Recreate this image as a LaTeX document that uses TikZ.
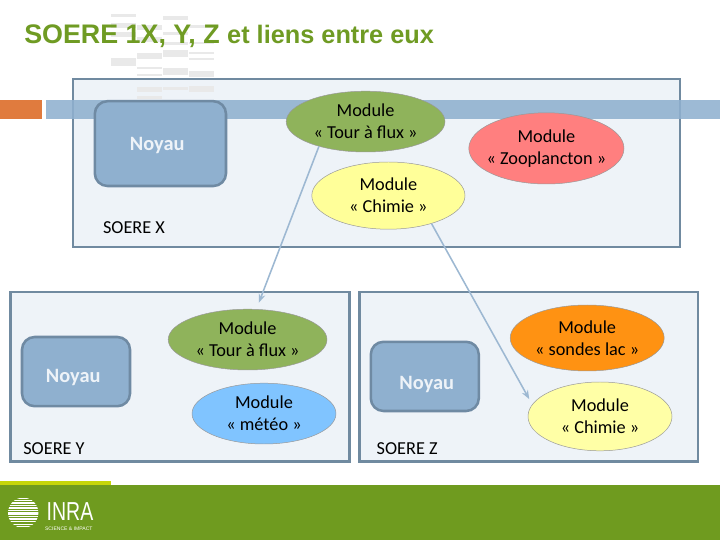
\documentclass[tikz,border=0pt]{standalone}
\usepackage{fontspec}
\setmainfont{Carlito}
\newfontfamily\titlefont{Liberation Sans}
\usetikzlibrary{shapes.geometric, arrows.meta}
\definecolor{fillSoere}{HTML}{EEF3F8}
\definecolor{borderSoere}{HTML}{708AA0}
\definecolor{fillNoyau}{HTML}{8FB0CF}
\definecolor{borderNoyau}{HTML}{6F8AA3}
\definecolor{fillTour}{HTML}{8FB35B}
\definecolor{fillChimie}{HTML}{FFFF99}
\definecolor{fillChimieZ}{HTML}{FFFFA6}
\definecolor{fillZoo}{HTML}{FF7F7F}
\definecolor{fillSondes}{HTML}{FF9212}
\definecolor{fillMeteo}{HTML}{80C4FF}
\definecolor{titleGreen}{HTML}{6F9B23}
\definecolor{footerGreen}{HTML}{6F9B1F}
\definecolor{limeLine}{HTML}{C6D60A}
\definecolor{bandOrange}{HTML}{E07B3E}
\definecolor{lineBlue}{HTML}{9DB8D2}
\definecolor{barGray}{HTML}{E9E9E9}

\begin{document}
\begin{tikzpicture}[
    myarrow/.style={line width=1.1pt, lineBlue, -{Stealth[scale=0.8]}},
    soerebox/.style={rectangle, fill=fillSoere, draw=borderSoere, line width=1.6pt, inner sep=0pt},
    noyaubox/.style={rectangle, fill=fillNoyau, draw=borderNoyau, line width=1.8pt, rounded corners=9pt, inner sep=0pt},
    noyautext/.style={text=fillSoere, font=\fontsize{14.5}{16}\selectfont\bfseries},
    module/.style={ellipse, inner sep=0pt, align=center, draw=black!40, line width=0.35pt, font=\fontsize{13}{15.6}\selectfont},
    soerelabel/.style={font=\fontsize{13}{15}\selectfont}
]

    % ==========================================
    % 1. SLIDE BACKGROUND
    % ==========================================
    \useasboundingbox (0, 0) rectangle (18, 13.5);

    \node[soerebox, minimum width=15.18cm, minimum height=4.2cm] (soereX) at (9.41, 9.43) {};

    % Grey bars behind the title: x, y (top), height
    \foreach \x/\y/\h in {2.78/13.15/.08, 2.78/12.92/.12, 2.78/12.7/.12, 2.78/12.05/.2,
                          3.43/12.87/.12, 3.43/12.57/.12, 3.43/12.17/.15, 3.43/11.82/.05, 3.43/11.65/.05, 3.43/11.32/.12, 3.43/11.1/.08,
                          4.08/13.1/.1, 4.08/12.7/.08, 4.08/12.45/.08, 4.08/12.25/.18, 4.08/11.8/.18, 4.08/11.32/.08,
                          4.73/12.87/.08, 4.73/12.45/.05, 4.73/12.2/.05, 4.73/12.05/.05, 4.73/11.72/.15, 4.73/11.35/.15}
        \fill[barGray] (\x, \y) rectangle ++(0.62, -\h);

    \node[anchor=base west, inner sep=0pt, text=titleGreen, font=\titlefont\bfseries\fontsize{19.1}{22}\selectfont] (title) at (0.6, 12.42)
        {SOERE 1X, Y, Z {\fontsize{18}{22}\selectfont et liens entre eux}};

    \fill[bandOrange] (0, 11) rectangle (1.05, 10.52);
    \node[rectangle, fill=fillNoyau, opacity=0.88, inner sep=0pt, minimum width=16.85cm, minimum height=0.48cm, anchor=west] (band) at (1.15, 10.76) {};

    % ==========================================
    % 2. SOERE X (Top)
    % ==========================================
    \node[noyaubox, minimum width=3.28cm, minimum height=2.12cm,
        label={[noyautext, shift={(-0.08, -0.05)}]center:Noyau}] (noyauX) at (4.01, 9.91) {};
    \node[module, fill=fillTour, minimum width=3.97cm, minimum height=1.52cm] (tourX) at (9.14, 10.46) {Module\\« Tour à flux »};
    \node[module, fill=fillChimie, minimum width=3.83cm, minimum height=1.68cm] (chimieX) at (9.71, 8.61) {Module\\« Chimie »};
    \node[module, fill=fillZoo, minimum width=3.88cm, minimum height=1.78cm] (zooX) at (13.66, 9.79) {Module\\\makebox[2.6cm]{« Zooplancton »}};
    \node[soerelabel] (labelX) at (3.35, 7.82) {SOERE X};

    % ==========================================
    % 3. SOERE Y (Bottom left)
    % ==========================================
    \node[soerebox, minimum width=8.47cm, minimum height=4.23cm] (soereY) at (4.5, 4.08) {};
    \node[noyaubox, minimum width=2.7cm, minimum height=1.73cm,
        label={[noyautext, shift={(-0.07, -0.14)}]center:Noyau}] (noyauY) at (1.9, 4.21) {};
    \node[module, fill=fillTour, minimum width=3.97cm, minimum height=1.52cm] (tourY) at (6.19, 5.01) {Module\\« Tour à flux »};
    \node[module, fill=fillMeteo, minimum width=3.6cm, minimum height=1.52cm] (meteoY) at (6.6, 3.16) {Module\\« météo »};
    \node[soerelabel] (labelY) at (1.35, 2.29) {SOERE Y};

    % ==========================================
    % 4. SOERE Z (Bottom right)
    % ==========================================
    \node[soerebox, minimum width=8.47cm, minimum height=4.23cm] (soereZ) at (13.22, 4.08) {};
    \node[noyaubox, minimum width=2.7cm, minimum height=1.73cm,
        label={[noyautext, shift={(0.05, -0.19)}]center:Noyau}] (noyauZ) at (10.62, 4.09) {};
    \node[module, fill=fillSondes, minimum width=3.85cm, minimum height=1.65cm] (sondesZ) at (14.68, 5.05) {Module\\« sondes lac »};
    \node[module, fill=fillChimieZ, minimum width=3.6cm, minimum height=1.72cm] (chimieZ) at (15, 3.09) {Module\\« Chimie »};
    \node[soerelabel] (labelZ) at (10.18, 2.29) {SOERE Z};

    % ==========================================
    % 5. FOOTER
    % ==========================================
    \fill[footerGreen] (0, 0) rectangle (18, 1.38);
    \fill[limeLine] (0, 1.38) rectangle (2.78, 1.48);

    % Striped globe of the logo
    \begin{scope}
        \clip (0.58, 0.68) circle (0.38);
        \foreach \y/\h in {1.05/.03, 1.0/.03, .94/.04, .88/.03, .82/.05, .75/.03, .69/.06, .61/.03, .55/.05, .47/.03, .41/.04, .35/.03}
            \fill[white] (0.15, \y) rectangle (1, \y - \h);
    \end{scope}
    \node[inner sep=0pt, text=white, font=\titlefont\fontsize{18.5}{18.5}\selectfont, xscale=0.75, transform shape] (logo) at (1.75, 0.7) {INRA};
    \node[inner sep=0pt, text=white, font=\titlefont\fontsize{3.6}{4}\selectfont] (slogan) at (1.72, 0.29) {SCIENCE \& IMPACT};

    % ==========================================
    % 6. DRAW CONNECTING ARROWS
    % ==========================================
    \draw[myarrow, shorten >=0.17cm] (tourX.208) -- (tourY.74);
    \draw[myarrow, shorten >=0.15cm] (chimieX.-33.5) -- (chimieZ.170);

\end{tikzpicture}
\end{document}
